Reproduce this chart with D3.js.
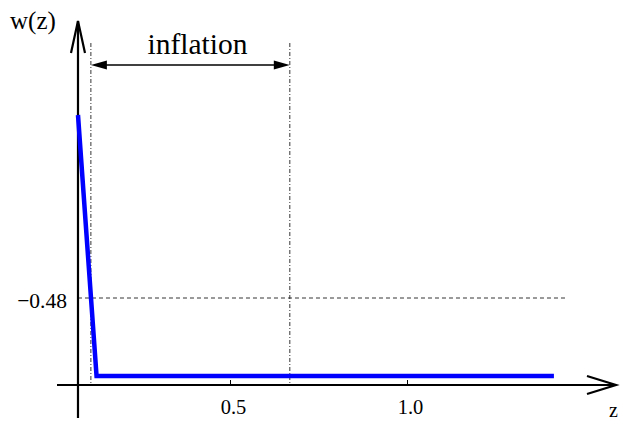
<!DOCTYPE html>
<html lang="en">
<head>
  <meta charset="UTF-8">
  <title>w(z)</title>
  <style>
    body { margin: 0; padding: 0; background: #ffffff; }
    svg { display: block; }
    text { font-family: "Liberation Serif", "Times New Roman", Times, serif; fill: #000; }
    .tick line { stroke: #000; stroke-width: 1; }
  </style>
</head>
<body>
<svg width="623" height="424"></svg>
<script src="https://d3js.org/d3.v7.min.js"></script>
<script>
  // data
  const zValues = [0.0706, 0.123, 1.415];
  const wValues = [0.74, -1.0, -1.0];
  const zTicks = [0.5, 1.0];
  const zTickLabels = ["0.5", "1.0"];
  const wMark = -0.48;
  const wMarkLabel = "\u22120.48";
  const inflation = [0.107, 0.669];   // z range of the inflation era
  const axisZ = 0.0706, axisW = -1.06; // where the axes cross

  const serif = "Liberation Serif";
  const svg = d3.select("svg");

  const x = d3.scaleLinear().domain([0.5, 1.0]).range([230, 407]);
  const y = d3.scaleLinear().domain([-1, -0.48]).range([376, 298]);

  const x0 = x(axisZ), y0 = y(axisW);

  // dashed guide lines
  inflation.forEach(z => {
    svg.append("line")
      .attr("x1", x(z)).attr("x2", x(z))
      .attr("y1", 43).attr("y2", y0)
      .attr("stroke", "#000").attr("stroke-width", 0.8)
      .attr("stroke-dasharray", "4,2,1,2");
  });
  svg.append("line")
    .attr("x1", x0).attr("x2", x(1.45))
    .attr("y1", y(wMark)).attr("y2", y(wMark))
    .attr("stroke", "#000").attr("stroke-width", 0.8)
    .attr("stroke-dasharray", "4,3");

  svg.append("text")
    .attr("x", 67).attr("y", 308)
    .attr("text-anchor", "end")
    .attr("font-family", serif)
    .attr("font-size", 21.5)
    .text(wMarkLabel);

  // x axis ticks
  const xAxis = d3.axisBottom(x)
    .tickValues(zTicks)
    .tickFormat((d, i) => zTickLabels[i])
    .tickSizeInner(-5).tickSizeOuter(0).tickPadding(14);
  const gx = svg.append("g").attr("transform", `translate(0,${y0})`).call(xAxis);
  gx.attr("font-family", serif).attr("font-size", 20.5);
  gx.selectAll(".tick text").attr("dx", 3);
  gx.select(".domain").remove();

  // axes lines with open arrow heads
  const axes = svg.append("g").attr("stroke", "#000").attr("stroke-width", 2.2).attr("fill", "none");
  axes.append("line").attr("x1", 57).attr("x2", 616).attr("y1", y0).attr("y2", y0);
  axes.append("path").attr("d", `M587,${y0 - 9} L616,${y0} L587,${y0 + 9}`);
  axes.append("line").attr("x1", x0).attr("x2", x0).attr("y1", 418).attr("y2", 21);
  axes.append("path").attr("d", `M${x0 - 7},53 L${x0},21 L${x0 + 7},53`);

  // curve
  const line = d3.line().x((d, i) => x(zValues[i])).y(d => y(d));
  svg.append("path")
    .datum(wValues)
    .attr("d", line)
    .attr("fill", "none")
    .attr("stroke", "#0000ff")
    .attr("stroke-width", 4.5)
    .attr("stroke-linejoin", "miter");

  // inflation double arrow
  const ay = 65;
  const xa = x(inflation[0]), xb = x(inflation[1]);
  svg.append("line").attr("x1", xa + 10).attr("x2", xb - 10).attr("y1", ay).attr("y2", ay)
    .attr("stroke", "#000").attr("stroke-width", 1.3);
  svg.append("path").attr("d", `M${xa},${ay} L${xa + 16},${ay - 4.5} L${xa + 16},${ay + 4.5} Z`).attr("fill", "#000");
  svg.append("path").attr("d", `M${xb},${ay} L${xb - 16},${ay - 4.5} L${xb - 16},${ay + 4.5} Z`).attr("fill", "#000");
  svg.append("text")
    .attr("x", 197.5).attr("y", 54)
    .attr("text-anchor", "middle")
    .attr("font-family", serif)
    .attr("font-size", 29.5)
    .text("inflation");

  // axis labels
  svg.append("text").attr("x", 10).attr("y", 29).attr("font-family", serif).attr("font-size", 25).text("w(z)");
  svg.append("text").attr("x", 609).attr("y", 417).attr("font-family", serif).attr("font-size", 20).text("z");
</script>
</body>
</html>
